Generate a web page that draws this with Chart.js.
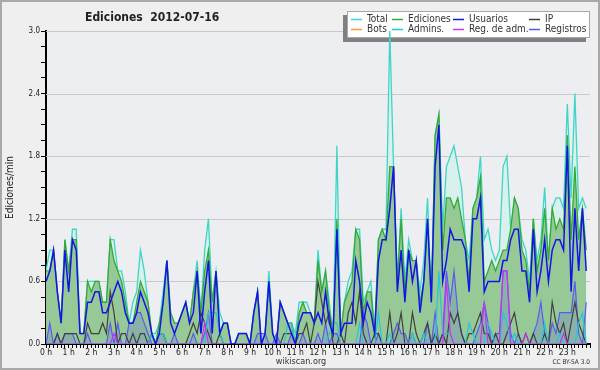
<!DOCTYPE html>
<html>
<head>
<meta charset="utf-8">
<script src="https://cdn.jsdelivr.net/npm/chart.js@4.4.0/dist/chart.umd.min.js"></script>
<style>
  html, body { margin: 0; padding: 0; background: #efefef; }
  #chart { display: block; }
</style>
</head>
<body>
<canvas id="chart" width="600" height="370"></canvas>
<script>
// edits per minute, one value per 10-minute slot (144 slots = 24 h)
const total = [
  0.7,0.9,0.9,0.5,0.2,1.0,0.7,1.1,1.1,0.1,0.1,0.6,
  0.6,0.6,0.6,0.4,0.4,1.0,1.0,0.7,0.7,0.5,0.2,0.4,
  0.5,0.9,0.7,0.4,0.1,0.1,0.2,0.5,0.8,0.3,0.2,0.2,
  0.3,0.4,0.2,0.5,0.8,0.3,0.9,1.2,0.4,0.7,0.3,0.2,
  0.2,0,0,0.1,0.1,0.1,0,0.3,0.5,0,0.1,0.7,
  0.1,0,0.4,0.3,0.2,0.2,0.1,0.4,0.4,0.4,0.3,0.2,
  0.9,0.5,0.7,0.4,0.1,1.9,0.1,0.4,0.6,0.7,1.1,1.1,
  0.4,0.5,0.6,0.1,1.0,1.1,1.1,3.0,1.7,0.6,1.3,0.6,
  1.0,0.8,0.8,0.5,0.8,1.4,0.4,2.0,2.2,1.1,1.7,1.8,
  1.9,1.7,1.5,1.0,0.8,1.3,1.4,1.8,1.0,1.1,0.9,0.8,
  0.9,1.7,1.8,1.1,1.4,1.3,1.0,0.9,0.6,1.2,0.8,1.0,
  1.5,0.8,1.3,1.4,1.4,1.3,2.3,1.4,2.4,1.3,1.4,1.3
];
const ediciones = [
  0.7,0.7,0.9,0.5,0.2,1.0,0.7,1.0,1.0,0.1,0.1,0.6,
  0.5,0.6,0.6,0.4,0.4,1.0,0.8,0.7,0.6,0.4,0.2,0.2,
  0.4,0.6,0.5,0.4,0.1,0,0.2,0.4,0.8,0.3,0.2,0.2,
  0.3,0.4,0.2,0.5,0.7,0.3,0.7,0.9,0.4,0.7,0.1,0.2,
  0.2,0,0,0.1,0.1,0.1,0,0.3,0.5,0,0.1,0.6,
  0.1,0,0.4,0.3,0.2,0.2,0,0.3,0.4,0.3,0.3,0.2,
  0.8,0.5,0.7,0.3,0.1,1.2,0.1,0.4,0.5,0.6,1.1,1.0,
  0.3,0.5,0.5,0.1,1.0,1.1,1.0,1.7,1.7,0.6,1.2,0.5,
  0.9,0.8,0.8,0.4,0.6,1.2,0.4,2.0,2.2,0.9,1.4,1.4,
  1.3,1.4,1.2,1.0,0.6,1.3,1.4,1.6,0.6,0.7,0.8,0.7,
  0.8,0.9,0.9,1.1,1.4,1.3,0.9,0.8,0.5,1.2,0.7,0.9,
  1.3,0.8,1.3,1.1,1.2,1.1,2.0,1.0,1.7,1.0,1.3,0.9
];
const usuarios = [
  0.6,0.7,0.9,0.5,0.2,0.9,0.5,1.0,0.9,0.1,0.1,0.4,
  0.4,0.5,0.5,0.3,0.3,0.4,0.5,0.6,0.5,0.3,0.2,0.2,
  0.3,0.5,0.4,0.3,0.1,0,0.1,0.4,0.8,0.2,0.1,0.2,
  0.3,0.4,0.2,0.3,0.7,0.1,0.5,0.8,0.1,0.7,0.1,0.2,
  0.2,0,0,0.1,0.1,0.1,0,0.3,0.5,0,0.1,0.6,
  0.1,0,0.4,0.3,0.2,0.1,0,0.2,0.3,0.3,0.3,0.2,
  0.3,0.2,0.5,0.2,0.1,1.1,0.1,0.2,0.2,0.2,0.8,0.6,
  0.2,0.4,0.3,0.1,0.8,1.0,1.0,1.3,1.7,0.5,0.9,0.4,
  0.9,0.6,0.8,0.3,0.6,1.2,0.4,1.7,2.1,0.6,0.8,1.1,
  1.0,1.0,1.0,0.9,0.5,1.2,1.2,1.4,0.5,0.6,0.6,0.6,
  0.6,0.8,0.8,1.0,1.1,1.1,0.7,0.7,0.4,1.1,0.5,0.7,
  1.0,0.6,0.9,1.0,1.0,0.9,1.9,0.5,1.3,0.7,1.3,0.7
];
const ip = [
  0,0,0,0.1,0,0.1,0.1,0.1,0.1,0,0,0.2,
  0.1,0.1,0.1,0.2,0.1,0.5,0.3,0,0.1,0.1,0,0.1,
  0,0.1,0.1,0,0.1,0,0.1,0.1,0,0,0,0,
  0,0,0.1,0.2,0.1,0.3,0.2,0.1,0,0,0.1,0,
  0,0,0,0,0,0,0,0,0,0,0,0,
  0,0,0,0.1,0.1,0.1,0,0.1,0.1,0.2,0,0.2,
  0.6,0.4,0.2,0.3,0,0,0.1,0,0.3,0.4,0.2,0.5,
  0.1,0,0,0.1,0.1,0,0,0.3,0,0.1,0.3,0,
  0,0.3,0.1,0,0.1,0.2,0,0.1,0,0.1,0,0.3,
  0.2,0.3,0.1,0,0.1,0.1,0.2,0.3,0.1,0.1,0,0.1,
  0,0,0.1,0.2,0.3,0.1,0,0.1,0,0.1,0,0,
  0.1,0,0.4,0.2,0.1,0.2,0,0.2,0.4,0.2,0.1,0
];
const bots = [
  0,0,0,0,0,0,0,0,0,0,0,0,0,0,0,0,0,0,0,0,0,0,0,0,
  0,0,0,0,0,0,0,0,0,0,0,0,0,0,0,0,0,0,0,0,0,0,0,0,
  0,0,0,0,0,0,0,0,0,0,0,0,0,0,0,0,0,0,0,0,0,0,0,0,
  0,0,0,0,0,0,0,0,0,0,0,0,0,0,0,0,0,0,0,0,0,0,0,0,
  0,0,0,0,0,0,0,0,0,0,0,0,0,0,0,0,0,0,0,0,0,0,0,0,
  0,0,0,0,0,0,0,0,0,0,0,0,0,0,0,0,0,0,0,0,0,0,0,0
];
const admins = [
  0,0,0,0,0,0,0,0,0,0,0,0,
  0,0,0,0,0,0,0,0,0,0,0,0,
  0,0,0,0,0.1,0,0.1,0.1,0,0,0,0,
  0,0,0,0,0,0,0,0.3,0.3,0.3,0.1,0,
  0,0,0,0,0,0,0,0,0,0,0,0,
  0,0,0,0,0.2,0.2,0,0,0,0,0,0,
  0,0,0,0.1,0.2,0.2,0,0,0,0,0,0.2,
  0,0,0,0,0.3,0,0,0.1,0,0,0,0,
  0,0.1,0,0,0.1,0,0,0,0.7,0.1,0.1,0.1,
  0,0,0,0,0.2,0.1,0,0,0,0.2,0.1,0,
  0,0.3,0.2,0,0.1,0,0,0,0,0,0,0,
  0.2,0,0,0,0.1,0,0,0,0,0.2,0.3,0
];
const regAdm = [
  0,0,0,0,0,0,0,0,0,0,0,0,
  0,0,0,0,0,0,0.1,0,0,0,0,0,
  0,0,0,0,0,0,0,0,0,0,0,0,
  0,0,0,0,0,0,0.2,0,0,0,0,0,
  0,0,0,0,0,0,0,0,0,0,0,0,
  0,0,0,0,0,0,0,0,0,0,0,0,
  0,0,0,0,0,0,0,0,0,0,0,0,
  0,0,0,0,0,0,0,0,0,0,0,0,
  0,0,0,0,0,0,0,0,0,0,0.6,0.1,
  0,0,0,0,0,0,0,0,0.4,0,0,0,
  0,0.7,0.7,0,0,0,0,0.1,0,0,0,0,
  0,0,0,0,0,0.1,0,0,0,0,0,0
];
const registros = [
  0,0.2,0,0.1,0,0.1,0.1,0.1,0,0,0,0.1,
  0,0,0,0,0,0.2,0,0.2,0,0,0.2,0.2,
  0.3,0.3,0.2,0.1,0,0,0.1,0.1,0,0,0.1,0,
  0,0,0,0.1,0,0,0.1,0.3,0,0,0,0,
  0,0,0,0,0,0,0,0,0.1,0.1,0.1,0,
  0,0.1,0,0,0,0.1,0,0,0.1,0,0,0,
  0.1,0,0.2,0,0.1,0.1,0,0,0,0,0,0,
  0.3,0.2,0,0,0.1,0,0,0,0.1,0.2,0.1,0.1,
  0,0.1,0,0,0,0.2,0,0.3,0,0.1,0.7,0.4,
  0.7,0.3,0.1,0,0,0,0.1,0.2,0.4,0.2,0,0.1,
  0.1,0.7,0.7,0.1,0,0.1,0,0,0,0.1,0.2,0.4,
  0.1,0,0.2,0.1,0.3,0.3,0.3,0.3,0.6,0.1,0,0.4
];

const hourLabels = ['0 h','1 h','2 h','3 h','4 h','5 h','6 h','7 h','8 h','9 h','10 h','11 h',
  '12 h','13 h','14 h','15 h','16 h','17 h','18 h','19 h','20 h','21 h','22 h','23 h'];
const yTickValues = [0,0.15,0.3,0.45,0.6,0.75,0.9,1.05,1.2,1.35,1.5,1.65,1.8,1.95,2.1,2.25,2.4,2.55,2.7,2.85,3.0];
const yLabelValues = [0,0.6,1.2,1.8,2.4,3.0];

const FONT = "'DejaVu Sans Condensed', 'DejaVu Sans', sans-serif";

function points(arr) {
  return arr.map((v, i) => ({ x: i, y: v }));
}

function isYLabel(v) {
  return yLabelValues.some(l => Math.abs(l - v) < 1e-6);
}

const slotTicks = [];
for (let i = 0; i <= 144; i++) slotTicks.push(i);

const legendCols = [351, 392, 453, 529];
const legendRows = [19.5, 29.5];

const decorations = {
  id: 'decorations',
  beforeDraw(chart) {
    const { ctx, chartArea } = chart;
    ctx.save();
    ctx.fillStyle = '#efefef';
    ctx.fillRect(0, 0, chart.width, chart.height);
    ctx.fillStyle = '#eceef1';
    ctx.fillRect(chartArea.left, chartArea.top, chartArea.right - chartArea.left, chartArea.bottom - chartArea.top);
    ctx.restore();
  },
  beforeDatasetsDraw(chart) {
    const { ctx, chartArea, scales } = chart;
    ctx.save();
    // horizontal grid lines at the labelled values
    ctx.strokeStyle = '#c9c9c9';
    ctx.lineWidth = 1;
    yLabelValues.forEach(v => {
      if (v === 0) return;
      const y = Math.round(scales.y.getPixelForValue(v)) + 0.5;
      ctx.beginPath();
      ctx.moveTo(chartArea.left, y);
      ctx.lineTo(chartArea.right, y);
      ctx.stroke();
    });

    // legend box with shadow (the data lines pass over it)
    const bx = 347, by = 11, bw = 243, bh = 27;
    ctx.fillStyle = '#808080';
    ctx.fillRect(bx - 4, by + 4, bw, bh);
    ctx.fillStyle = '#ffffff';
    ctx.fillRect(bx, by, bw, bh);
    ctx.strokeStyle = '#a8a8a8';
    ctx.strokeRect(bx + 0.5, by + 0.5, bw - 1, bh - 1);

    ctx.font = '10px ' + FONT;
    ctx.textBaseline = 'middle';
    ctx.textAlign = 'left';
    chart.data.datasets.forEach((ds, i) => {
      const x = legendCols[i % 4];
      const y = legendRows[Math.floor(i / 4)];
      ctx.strokeStyle = ds.borderColor;
      ctx.lineWidth = 1.5;
      ctx.beginPath();
      ctx.moveTo(x, y);
      ctx.lineTo(x + 11, y);
      ctx.stroke();
      ctx.fillStyle = '#333';
      ctx.fillText(ds.label, x + 16, y);
    });
    ctx.restore();
  },
  afterDraw(chart) {
    const { ctx } = chart;
    ctx.save();
    ctx.fillStyle = '#222';
    ctx.font = 'bold 12px ' + FONT;
    ctx.textBaseline = 'middle';
    ctx.textAlign = 'left';
    ctx.fillText('Ediciones  2012-07-16', 85, 18);

    ctx.fillStyle = '#333';
    ctx.font = '9px ' + FONT;
    ctx.textAlign = 'center';
    ctx.fillText('wikiscan.org', 301, 362);
    ctx.font = '6.5px ' + FONT;
    ctx.textAlign = 'right';
    ctx.fillText('CC BY-SA 3.0', 590, 362);

    ctx.strokeStyle = '#a9a9a9';
    ctx.lineWidth = 2;
    ctx.strokeRect(1, 1, chart.width - 2, chart.height - 2);
    ctx.restore();
  }
};

function lineSet(label, data, color, width, order, fillColor) {
  return {
    label: label,
    data: points(data),
    borderColor: color,
    backgroundColor: fillColor || color,
    borderWidth: width,
    fill: fillColor ? 'origin' : false,
    pointRadius: 0,
    tension: 0,
    order: order
  };
}

new Chart(document.getElementById('chart'), {
  type: 'line',
  data: {
    datasets: [
      lineSet('Total', total, '#3fd5c6', 1.3, 9, '#d9f1ec'),
      lineSet('Ediciones', ediciones, '#34aa34', 1.3, 8, '#97c997'),
      lineSet('Usuarios', usuarios, '#1414e6', 1.5, 1),
      lineSet('IP', ip, '#404040', 1.2, 4),
      lineSet('Bots', bots, '#f5a030', 1.2, 6),
      lineSet('Admins.', admins, '#26c6d6', 1.2, 3),
      lineSet('Reg. de adm.', regAdm, '#c834f0', 1.2, 2),
      lineSet('Registros', registros, '#5a5af2', 1.2, 5, 'rgba(90,90,230,0.22)')
    ]
  },
  options: {
    responsive: false,
    animation: false,
    devicePixelRatio: 1,
    layout: { padding: { left: 0, right: 10, top: 31, bottom: 0 } },
    plugins: {
      legend: { display: false },
      title: { display: false },
      tooltip: { enabled: false }
    },
    scales: {
      x: {
        type: 'linear',
        min: 0,
        max: 144,
        z: 1,
        afterBuildTicks: axis => { axis.ticks = slotTicks.map(v => ({ value: v })); },
        afterFit: axis => { axis.height = 26; },
        border: { display: true, color: '#000', width: 2 },
        grid: { drawOnChartArea: false, color: '#000', tickColor: '#000', tickLength: 4 },
        ticks: {
          autoSkip: false,
          maxRotation: 0,
          minRotation: 0,
          padding: 0,
          color: '#222',
          font: { family: FONT, size: 8.5 },
          callback: v => (v % 6 === 0 && v < 144) ? hourLabels[v / 6] : ''
        }
      },
      y: {
        min: 0,
        max: 3,
        z: 1,
        afterBuildTicks: axis => { axis.ticks = yTickValues.map(v => ({ value: v })); },
        afterFit: axis => { axis.width = 46; },
        border: { display: true, color: '#000', width: 2 },
        grid: { drawOnChartArea: false, color: '#000', tickColor: '#000', tickLength: 5 },
        ticks: {
          autoSkip: false,
          padding: 1,
          color: '#222',
          font: { family: FONT, size: 8 },
          callback: v => isYLabel(v) ? v.toFixed(1) : ''
        },
        title: {
          display: true,
          text: 'Ediciones/min',
          color: '#222',
          font: { family: FONT, size: 10 },
          padding: { top: 4, bottom: 0 }
        }
      }
    }
  },
  plugins: [decorations]
});
</script>
</body>
</html>
